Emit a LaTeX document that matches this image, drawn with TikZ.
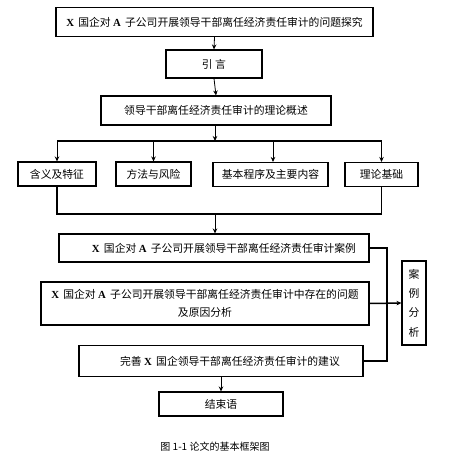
\documentclass[tikz,border=0pt]{standalone}
\usepackage{fontspec}
\setmainfont{Noto Sans CJK SC}
\newfontfamily\latb{Liberation Serif}
\usetikzlibrary{arrows.meta}
\newcommand{\BX}[1]{{\latb\bfseries #1}}
\begin{document}
\begin{tikzpicture}[x=1pt,y=-1pt,
  box/.style={draw=black,line width=1.1pt,inner sep=0pt,align=center,font=\fontsize{10.8}{18}\selectfont},
  arr/.style={line width=0.8pt,-{Stealth[length=5pt,width=4.5pt]}},
  bar/.style={line width=1.5pt}]
\useasboundingbox (0,0) rectangle (451,456);
\node[box,minimum width=317pt,minimum height=29pt] (b1) at (214.5,22) {\BX{X}\, 国企对 \BX{A}\, 子公司开展领导干部离任经济责任审计的问题探究};
\node[box,minimum width=96pt,minimum height=28pt] (b2) at (214,64) {引 言};
\node[box,minimum width=230pt,minimum height=29pt] (b3) at (216,110.5) {领导干部离任经济责任审计的理论概述};
\node[box,minimum width=78pt,minimum height=24pt] (ba) at (57,174) {含义及特征};
\node[box,minimum width=75pt,minimum height=24pt] (bb) at (153.5,174) {方法与风险};
\node[box,minimum width=115pt,minimum height=24pt] (bc) at (270.5,174.5) {基本程序及主要内容};
\node[box,minimum width=73pt,minimum height=24pt] (bd) at (381.5,174.5) {理论基础};
\node[box,minimum width=310pt,minimum height=28pt] (b5) at (214,248) {\hspace*{20pt}\BX{X}\, 国企对 \BX{A}\, 子公司开展领导干部离任经济责任审计案例};
\node[box,minimum width=328pt,minimum height=43pt] (b6) at (205,303.5) {\BX{X}\, 国企对 \BX{A}\, 子公司开展领导干部离任经济责任审计中存在的问题\\及原因分析};
\node[box,minimum width=284pt,minimum height=31pt] (b7) at (221,361) {\hspace*{18pt}完善 \BX{X}\, 国企领导干部离任经济责任审计的建议};
\node[box,minimum width=124pt,minimum height=24pt] (b8) at (221,404) {结束语};
\node[box,minimum width=24pt,minimum height=84pt,font=\fontsize{10.8}{19.3}\selectfont] (b9) at (414,303) {案\\例\\分\\析};
\node[font=\fontsize{10}{12}\selectfont] (cap) at (215,447) {图 1-1 论文的基本框架图};
\coordinate (t1) at (215,141);
\coordinate (t2) at (215,214);
\coordinate (rx) at (387,0);
% arrows
\draw[arr] (b1.south) -- (b2.north);
\draw[arr] (b2.south) -- (b3.north);
\draw[arr] (b3.south -| t1) -- (t1);
\draw[bar] (ba.north |- t1) -- (bd.north |- t1);
\draw[arr] (ba.north |- t1) -- (ba.north);
\draw[arr] (bb.north |- t1) -- (bb.north);
\draw[arr] (bc.north |- t1) ++(2.5,0) -- ([xshift=2.5pt]bc.north);
\draw[arr] (bd.north |- t1) -- (bd.north);
\draw[bar] (ba.south) -- (ba.south |- t2) -- (bd.south |- t2) -- (bd.south);
\draw[arr] (t2) -- (b5.north -| t2);
\draw[bar] (b5.east) -- (b5.east -| rx) -- (b7.east -| rx) -- (b7.east);
\draw[bar,-{Stealth[length=5pt,width=4.5pt]}] (b6.east) -- (b9.west);
\draw[arr] (b7.south) -- (b8.north);
\end{tikzpicture}
\end{document}
